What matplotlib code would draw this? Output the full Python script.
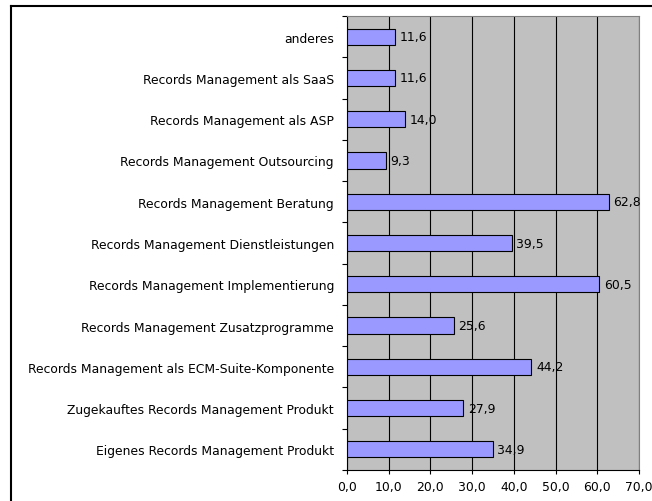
import numpy as np
import matplotlib.pyplot as plt
from matplotlib.lines import Line2D

plt.rcParams['font.family'] = ['DejaVu Sans']

# data, bottom to top
categories = [
    'Eigenes Records Management Produkt',
    'Zugekauftes Records Management Produkt',
    'Records Management als ECM-Suite-Komponente',
    'Records Management Zusatzprogramme',
    'Records Management Implementierung',
    'Records Management Dienstleistungen',
    'Records Management Beratung',
    'Records Management Outsourcing',
    'Records Management als ASP',
    'Records Management als SaaS',
    'anderes',
]
values = [34.9, 27.9, 44.2, 25.6, 60.5, 39.5, 62.8, 9.3, 14.0, 11.6, 11.6]
xticks = [0, 10, 20, 30, 40, 50, 60, 70]

FS = 8.9
W, H = 652, 502
fig = plt.figure(figsize=(W / 100, H / 100), dpi=100)
ax = fig.add_axes([347 / W, 1 - 471 / H, (639 - 347) / W, (471 - 17) / H])

y = np.arange(len(categories))
ax.set_facecolor('#C0C0C0')
ax.barh(y, values, height=0.39, color='#9999FF', edgecolor='black', linewidth=0.8, zorder=3)
for yi, v in zip(y, values):
    ax.text(v + 1.1, yi, f'{v:.1f}'.replace('.', ','), va='center', ha='left',
            fontsize=FS, zorder=4, clip_on=False)

ax.set_xlim(0, 70)
ax.set_ylim(-0.5, len(categories) - 0.5)
ax.set_xticks(xticks)
ax.set_xticklabels([f'{t:.1f}'.replace('.', ',') for t in xticks], fontsize=FS)
ax.xaxis.grid(True, color='black', linewidth=0.8, zorder=1)
ax.set_axisbelow(True)

ax.set_yticks(y)
ax.set_yticklabels(categories, fontsize=FS)
ax.set_yticks(np.arange(-0.5, len(categories), 1.0), minor=True)
ax.tick_params(axis='y', which='major', length=0, pad=9.4)
ax.tick_params(axis='y', which='minor', length=3.6, width=0.8, direction='out')
ax.tick_params(axis='x', length=3, width=0.8, direction='out', pad=4)

for side in ['top', 'right']:
    ax.spines[side].set_color('#808080')
for side in ['left', 'bottom']:
    ax.spines[side].set_color('black')
for s in ax.spines.values():
    s.set_linewidth(0.8)

# outer chart border (clipped on right and bottom)
fig.add_artist(Line2D([11 / W, 11 / W], [0, 1 - 7 / H], color='black', linewidth=1.5, transform=fig.transFigure))
fig.add_artist(Line2D([11 / W, 1], [1 - 7 / H, 1 - 7 / H], color='black', linewidth=1.5, transform=fig.transFigure))

fig.savefig('out.png', dpi=100)
